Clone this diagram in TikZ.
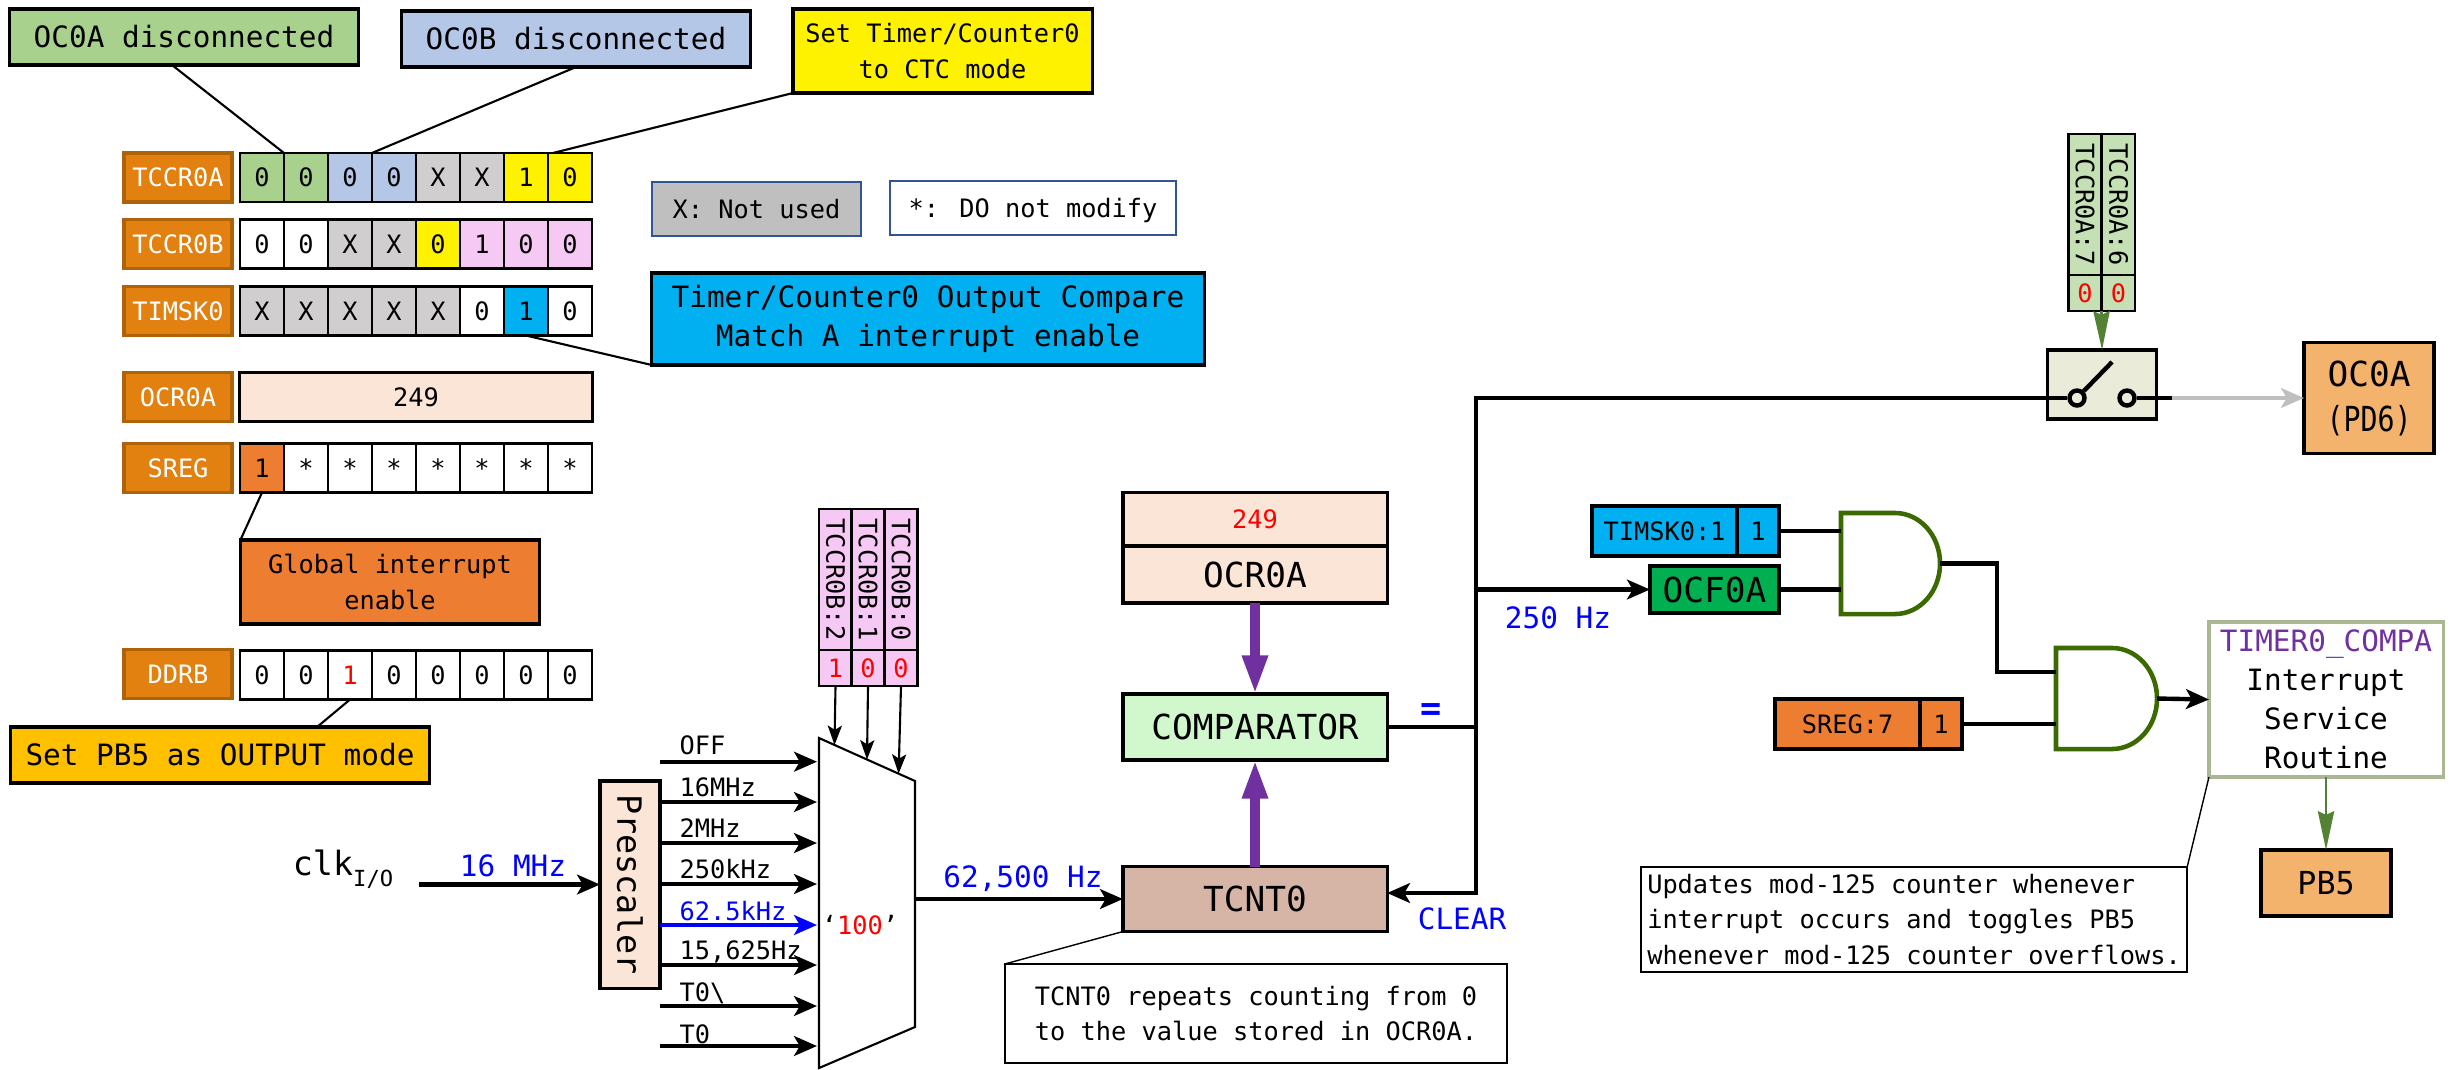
\documentclass[tikz,border=0pt]{standalone}
\usepackage{fontspec}
\setmainfont{DejaVu Sans Mono}
\usepackage{graphicx}
\usepackage{tikz}
\usetikzlibrary{arrows.meta}
\definecolor{regorange}{HTML}{E2810F}
\definecolor{regedge}{HTML}{AF6308}
\definecolor{bitgreen}{HTML}{A9D18E}
\definecolor{bitblue}{HTML}{B4C7E7}
\definecolor{bitgray}{HTML}{D0CECE}
\definecolor{bitpink}{HTML}{F6C9F4}
\definecolor{bitcyan}{HTML}{00B0F0}
\definecolor{peach}{HTML}{FBE5D6}
\definecolor{sregorange}{HTML}{ED7D31}
\definecolor{gold}{HTML}{FFC000}
\definecolor{mint}{HTML}{D0F8CC}
\definecolor{tan}{HTML}{D7B5A6}
\definecolor{sandy}{HTML}{F4B36C}
\definecolor{palegreen}{HTML}{C5E0B4}
\definecolor{switchbg}{HTML}{EBEBDA}
\definecolor{ocfgreen}{HTML}{00B050}
\definecolor{gategreen}{HTML}{3B6A00}
\definecolor{wiregreen}{HTML}{548235}
\definecolor{isredge}{HTML}{A9B893}
\definecolor{purpleline}{HTML}{7030A0}
\definecolor{legendedge}{HTML}{2F5597}
\definecolor{legendgray}{HTML}{BFBFBF}

\begin{document}
\begin{tikzpicture}[x=0.01cm,y=-0.01cm]
        \tikzstyle{fsmall}=[font=\fontsize{7.2}{10}\selectfont];
        \tikzstyle{fmid}=[font=\fontsize{8.35}{11.1}\selectfont];
        \tikzstyle{fbig}=[font=\fontsize{9.8}{12.8}\selectfont];
        \tikzstyle{box}=[draw, line width=0.9pt, inner sep=0pt, outer sep=0pt, align=center];
        \tikzstyle{reg}=[box, fsmall, fill=regorange, draw=regedge, line width=1pt, text=white, minimum width=1.08cm, minimum height=0.49cm];
        \tikzstyle{bit}=[box, fsmall, line width=0.6pt, minimum width=0.44cm, minimum height=0.49cm];
        \tikzstyle{vert}=[box, fsmall, line width=0.6pt, rotate=-90, minimum width=1.41cm, minimum height=0.33cm];
        \tikzstyle{val}=[box, fsmall, line width=0.6pt, text=red, minimum width=0.33cm, minimum height=0.36cm];
        \tikzstyle{note}=[box, fsmall, line width=0.5pt, align=left];
        \tikzstyle{lab}=[inner sep=0pt, fsmall, anchor=west];
        \tikzstyle{bluelab}=[inner sep=0pt, fmid, text=blue];
        \tikzstyle{wire}=[line width=1.25pt];
        \tikzstyle{arrow}=[wire, -{Stealth[length=6.5pt,width=5.6pt,inset=1.6pt]}];
        \tikzstyle{sel}=[line width=0.6pt, -{Stealth[length=5.5pt,width=4pt,inset=1.2pt]}];
        \tikzstyle{fat}=[line width=2.6pt, draw=purpleline, -{Triangle[length=11pt,width=6.8pt,fill=purpleline]}];
        \tikzstyle{greenarrow}=[line width=0.8pt, draw=wiregreen, -{Stealth[length=11pt,width=4.6pt,inset=1pt,fill=wiregreen]}];
        \tikzstyle{lead}=[line width=0.6pt];
        \tikzstyle{gate}=[draw=gategreen, line width=1.3pt];
        \useasboundingbox (0,0) rectangle (2455,1069);

        \node [box, fmid, fill=bitgreen, minimum width=3.485cm, minimum height=0.56cm] (oc0aoff) at (184,37) {OC0A disconnected};
        \node [box, fmid, fill=bitblue, minimum width=3.48cm, minimum height=0.56cm] (oc0boff) at (576,39) {OC0B disconnected};
        \node [box, fsmall, fill=yellow, minimum width=2.99cm, minimum height=0.84cm] (ctc) at (942.5,51) {Set Timer/Counter0\\to CTC mode};
        \node [box, fsmall, fill=legendgray, draw=legendedge, line width=0.6pt, minimum width=2.09cm, minimum height=0.54cm] (notused) at (756.5,209) {X: Not used};
        \node [box, fsmall, draw=legendedge, line width=0.6pt, text depth=0pt, minimum width=2.86cm, minimum height=0.54cm] (nomodify) at (1033,208) {*: DO not modify};
        \node [box, fmid, fill=bitcyan, minimum width=5.52cm, minimum height=0.92cm] (oie) at (928,319) {Timer/Counter0 Output Compare\\Match A interrupt enable};

        \node [reg] (r1) at (178,177.5) {TCCR0A};
        \node [bit, fill=bitgreen] (a0) at (262,177.5) {0};
        \node [bit, fill=bitgreen] (a1) at (306,177.5) {0};
        \node [bit, fill=bitblue] (a2) at (350,177.5) {0};
        \node [bit, fill=bitblue] (a3) at (394,177.5) {0};
        \node [bit, fill=bitgray] (a4) at (438,177.5) {X};
        \node [bit, fill=bitgray] (a5) at (482,177.5) {X};
        \node [bit, fill=yellow] (a6) at (526,177.5) {1};
        \node [bit, fill=yellow] (a7) at (570,177.5) {0};

        \node [reg] (r2) at (178,244) {TCCR0B};
        \node [bit] (b0) at (262,244) {0};
        \node [bit] (b1) at (306,244) {0};
        \node [bit, fill=bitgray] (b2) at (350,244) {X};
        \node [bit, fill=bitgray] (b3) at (394,244) {X};
        \node [bit, fill=yellow] (b4) at (438,244) {0};
        \node [bit, fill=bitpink] (b5) at (482,244) {1};
        \node [bit, fill=bitpink] (b6) at (526,244) {0};
        \node [bit, fill=bitpink] (b7) at (570,244) {0};

        \node [reg] (r3) at (178,311) {TIMSK0};
        \node [bit, fill=bitgray] (t0) at (262,311) {X};
        \node [bit, fill=bitgray] (t1) at (306,311) {X};
        \node [bit, fill=bitgray] (t2) at (350,311) {X};
        \node [bit, fill=bitgray] (t3) at (394,311) {X};
        \node [bit, fill=bitgray] (t4) at (438,311) {X};
        \node [bit] (t5) at (482,311) {0};
        \node [bit, fill=bitcyan] (t6) at (526,311) {1};
        \node [bit] (t7) at (570,311) {0};

        \node [reg] (r4) at (178,397) {OCR0A};
        \node [box, fsmall, fill=peach, minimum width=3.52cm, minimum height=0.49cm] (ocrval) at (416,397) {249};

        \node [reg] (r5) at (178,468) {SREG};
        \node [bit, fill=sregorange] (s0) at (262,468) {1};
        \node [bit] (s1) at (306,468) {*};
        \node [bit] (s2) at (350,468) {*};
        \node [bit] (s3) at (394,468) {*};
        \node [bit] (s4) at (438,468) {*};
        \node [bit] (s5) at (482,468) {*};
        \node [bit] (s6) at (526,468) {*};
        \node [bit] (s7) at (570,468) {*};

        \node [box, fsmall, fill=sregorange, minimum width=2.99cm, minimum height=0.84cm] (gie) at (390,582) {Global interrupt\\enable};

        \node [reg] (r6) at (178,674) {DDRB};
        \node [bit] (d0) at (262,675) {0};
        \node [bit] (d1) at (306,675) {0};
        \node [bit, text=red] (d2) at (350,675) {1};
        \node [bit] (d3) at (394,675) {0};
        \node [bit] (d4) at (438,675) {0};
        \node [bit] (d5) at (482,675) {0};
        \node [bit] (d6) at (526,675) {0};
        \node [bit] (d7) at (570,675) {0};

        \node [box, fmid, fill=gold, minimum width=4.19cm, minimum height=0.56cm] (pb5out) at (220,755) {Set PB5 as OUTPUT mode};

        \draw [lead] ([xshift=-0.12cm]oc0aoff.south) -- (a1.north west);
        \draw [lead] (oc0boff.south) -- (a3.north west);
        \draw [lead] (ctc.south west) -- ([xshift=0.05cm]a7.north west);
        \draw [lead] (t6.south) -- (oie.south west);
        \draw [lead] (s0.south) -- (gie.north west);
        \draw [lead] (d2.south) -- ([xshift=0.97cm]pb5out.north);

        \node [vert, fill=bitpink] (p2) at (835.5,579.5) {TCCR0B:2};
        \node [vert, fill=bitpink] (p1) at (868,579.5) {TCCR0B:1};
        \node [vert, fill=bitpink] (p0) at (901,579.5) {TCCR0B:0};
        \node [val, fill=bitpink] (v2) at (835.5,668) {1};
        \node [val, fill=bitpink] (v1) at (868,668) {0};
        \node [val, fill=bitpink] (v0) at (901,668) {0};

        \node [box, rotate=-90, fill=peach, font=\fontsize{9.5}{12}\selectfont, minimum width=2.07cm, minimum height=0.6cm] (prescaler) at (630,884.5) {Prescaler};
        \node [inner sep=0pt, font=\fontsize{9.5}{12}\selectfont] (clk) at (343,869) {clk\raisebox{-3pt}{\fontsize{6.3}{7}\selectfont I/O}};
        \coordinate (clkin) at (419,884.5);
        \node [bluelab] (mhz) at (513,866) {16 MHz};
        \draw [arrow] (clkin) -- (prescaler);

        \coordinate (mtl) at (819,738);
        \coordinate (mtr) at (915,781);
        \coordinate (mbr) at (915,1027);
        \coordinate (mbl) at (819,1068);
        \draw [line width=0.6pt] (mtl) -- (mtr) -- (mbr) -- (mbl) -- cycle;
        \coordinate (s2top) at (834.5,745);
        \coordinate (s1top) at (867,759.5);
        \coordinate (s0top) at (898.6,773.7);
        \draw [sel] (v2.south) -- (s2top);
        \draw [sel] (v1.south) -- (s1top);
        \draw [sel] (v0.south) -- (s0top);

        \coordinate (m0) at (817,761.7);
        \coordinate (m1) at (817,802);
        \coordinate (m2) at (817,843);
        \coordinate (m3) at (817,884);
        \coordinate (m4) at (817,925);
        \coordinate (m5) at (817,965);
        \coordinate (m6) at (817,1006);
        \coordinate (m7) at (817,1046);
        \draw [arrow] (prescaler.north |- m0) -- (m0);
        \draw [arrow] (prescaler.north |- m1) -- (m1);
        \draw [arrow] (prescaler.north |- m2) -- (m2);
        \draw [arrow] (prescaler.north |- m3) -- (m3);
        \draw [arrow, blue] (prescaler.north |- m4) -- (m4);
        \draw [arrow] (prescaler.north |- m5) -- (m5);
        \draw [arrow] (prescaler.north |- m6) -- (m6);
        \draw [arrow] (prescaler.north |- m7) -- (m7);
        \node [lab] (l0) at (679,745) {OFF};
        \node [lab] (l1) at (679,787) {16MHz};
        \node [lab] (l2) at (679,828) {2MHz};
        \node [lab] (l3) at (679,869) {250kHz};
        \node [lab, text=blue] (l4) at (679,911) {62.5kHz};
        \node [lab] (l5) at (679,952) {15,625Hz};
        \node [lab] (l6) at (679,993) {T0\textbackslash};
        \node [lab] (l7) at (679,1034) {T0};
        \node [inner sep=0pt, fsmall] (sel100) at (860,925) {‘\textcolor{red}{100}’};

        \coordinate (mout) at (915,899);
        \node [bluelab] (fout) at (1023,879) {62,500 Hz};

        \node [box, fsmall, fill=peach, text=red, minimum width=2.64cm, minimum height=0.54cm] (ocrtop) at (1255,519.5) {249};
        \node [box, fbig, fill=peach, minimum width=2.64cm, minimum height=0.57cm] (ocrbox) at (1255,574.5) {OCR0A};
        \node [box, fbig, fill=mint, minimum width=2.64cm, minimum height=0.66cm] (comp) at (1255,727) {COMPARATOR};
        \node [box, fbig, fill=tan, minimum width=2.64cm, minimum height=0.65cm] (tcnt) at (1255,899) {TCNT0};
        \draw [arrow] (mout) -- (tcnt);
        \draw [fat] (ocrbox) -- (comp);
        \draw [fat] (tcnt) -- (comp);

        \node [note, minimum width=5.02cm, minimum height=0.99cm] (tnote) at (1256,1013.5) {TCNT0 repeats counting from 0\\to the value stored in OCR0A.};
        \draw [lead, line width=0.4pt] (tcnt.south west) -- (tnote.north west);

        \coordinate (j1) at (1476,727);
        \node [bluelab, font=\fontsize{10}{12}\selectfont\bfseries] (eq) at (1431,712) {=};
        \draw [wire] (comp) -- (j1);
        \node [bluelab] (f250) at (1558,618) {250 Hz};
        \node [bluelab] (clear) at (1462,919) {CLEAR};

        \node [vert, fill=palegreen] (c7) at (2085,204.5) {TCCR0A:7};
        \node [vert, fill=palegreen] (c6) at (2118.5,204.5) {TCCR0A:6};
        \node [val, fill=palegreen] (w7) at (2085,293) {0};
        \node [val, fill=palegreen] (w6) at (2118.5,293) {0};

        \node [box, fill=switchbg, minimum width=1.095cm, minimum height=0.69cm] (switch) at (2102,384.5) {};
        \node [circle, draw, wire, fill=switchbg, inner sep=0pt, minimum size=0.15cm] (sw1) at (2077,398) {};
        \node [circle, draw, wire, fill=switchbg, inner sep=0pt, minimum size=0.15cm] (sw2) at (2127,398) {};
        \coordinate (swarm) at (2112,362);
        \coordinate (swout) at (2172,398);
        \draw [wire] (sw1) -- (swarm);
        \draw [wire] (sw2) -- (swout);
        \draw [greenarrow] (w7.south east) -- (switch.north);
        \node [box, fbig, fill=sandy, minimum width=1.3cm, minimum height=1.11cm] (oc0a) at (2369,398) {OC0A\\\scalebox{0.82}[1]{(PD6)}};
        \draw [arrow, draw=legendgray] (swout) -- (oc0a);

        \draw [wire] (sw1) -| (j1);
        \draw [arrow] (j1) |- ([yshift=0.06cm]tcnt.east);

        \node [box, fsmall, fill=bitcyan, minimum width=1.45cm, minimum height=0.5cm] (timskname) at (1664.5,531) {TIMSK0:1};
        \node [box, fsmall, fill=bitcyan, minimum width=0.42cm, minimum height=0.5cm] (timskval) at (1758,531) {1};
        \node [box, fbig, fill=ocfgreen, minimum width=1.29cm, minimum height=0.47cm] (ocf) at (1714.5,589.5) {OCF0A};
        \draw [arrow] (j1 |- ocf) -- (ocf);

        \node [inner sep=0pt, outer sep=0pt, minimum width=0.99cm, minimum height=1.01cm] (g1) at (1890.5,563.5) {};
        \node [inner sep=0pt, outer sep=0pt, minimum width=1.01cm, minimum height=1.01cm] (g2) at (2106.5,698.5) {};
        \draw [gate] (g1.north west) -- ++(0.54cm,0) arc[start angle=90, end angle=-90, x radius=0.45cm, y radius=0.505cm] -- (g1.south west) -- cycle;
        \draw [gate] (g2.north west) -- ++(0.56cm,0) arc[start angle=90, end angle=-90, x radius=0.45cm, y radius=0.505cm] -- (g2.south west) -- cycle;
        \draw [wire] (timskval) -- (timskval -| g1.west);
        \draw [wire] (ocf) -- (ocf -| g1.west);

        \node [box, fsmall, fill=sregorange, minimum width=1.45cm, minimum height=0.5cm] (sregname) at (1847.5,724) {SREG:7};
        \node [box, fsmall, fill=sregorange, minimum width=0.42cm, minimum height=0.5cm] (sregval) at (1941,724) {1};
        \draw [wire] (sregval) -- (sregval -| g2.west);

        \coordinate (j2) at (1997,672);
        \draw [wire] (g1.east) -| (j2) -- (j2 -| g2.west);

        \node [box, fmid, draw=isredge, minimum width=2.34cm, minimum height=1.55cm] (isr) at (2326,699.5) {\textcolor{purpleline}{TIMER0\_COMPA}\\Interrupt\\Service\\Routine};
        \draw [arrow] (g2.east) -- (isr.west);

        \node [box, font=\fontsize{9}{12}\selectfont, fill=sandy, minimum width=1.3cm, minimum height=0.66cm] (pb5) at (2326,883) {PB5};
        \draw [greenarrow] (isr) -- (pb5);

        \node [note, minimum width=5.46cm, minimum height=1.05cm] (unote) at (1914,919.5) {Updates mod-125 counter whenever\\interrupt occurs and toggles PB5\\whenever mod-125 counter overflows.};
        \draw [lead, line width=0.4pt] (isr.south west) -- (unote.north east);
    \end{tikzpicture}
\end{document}
